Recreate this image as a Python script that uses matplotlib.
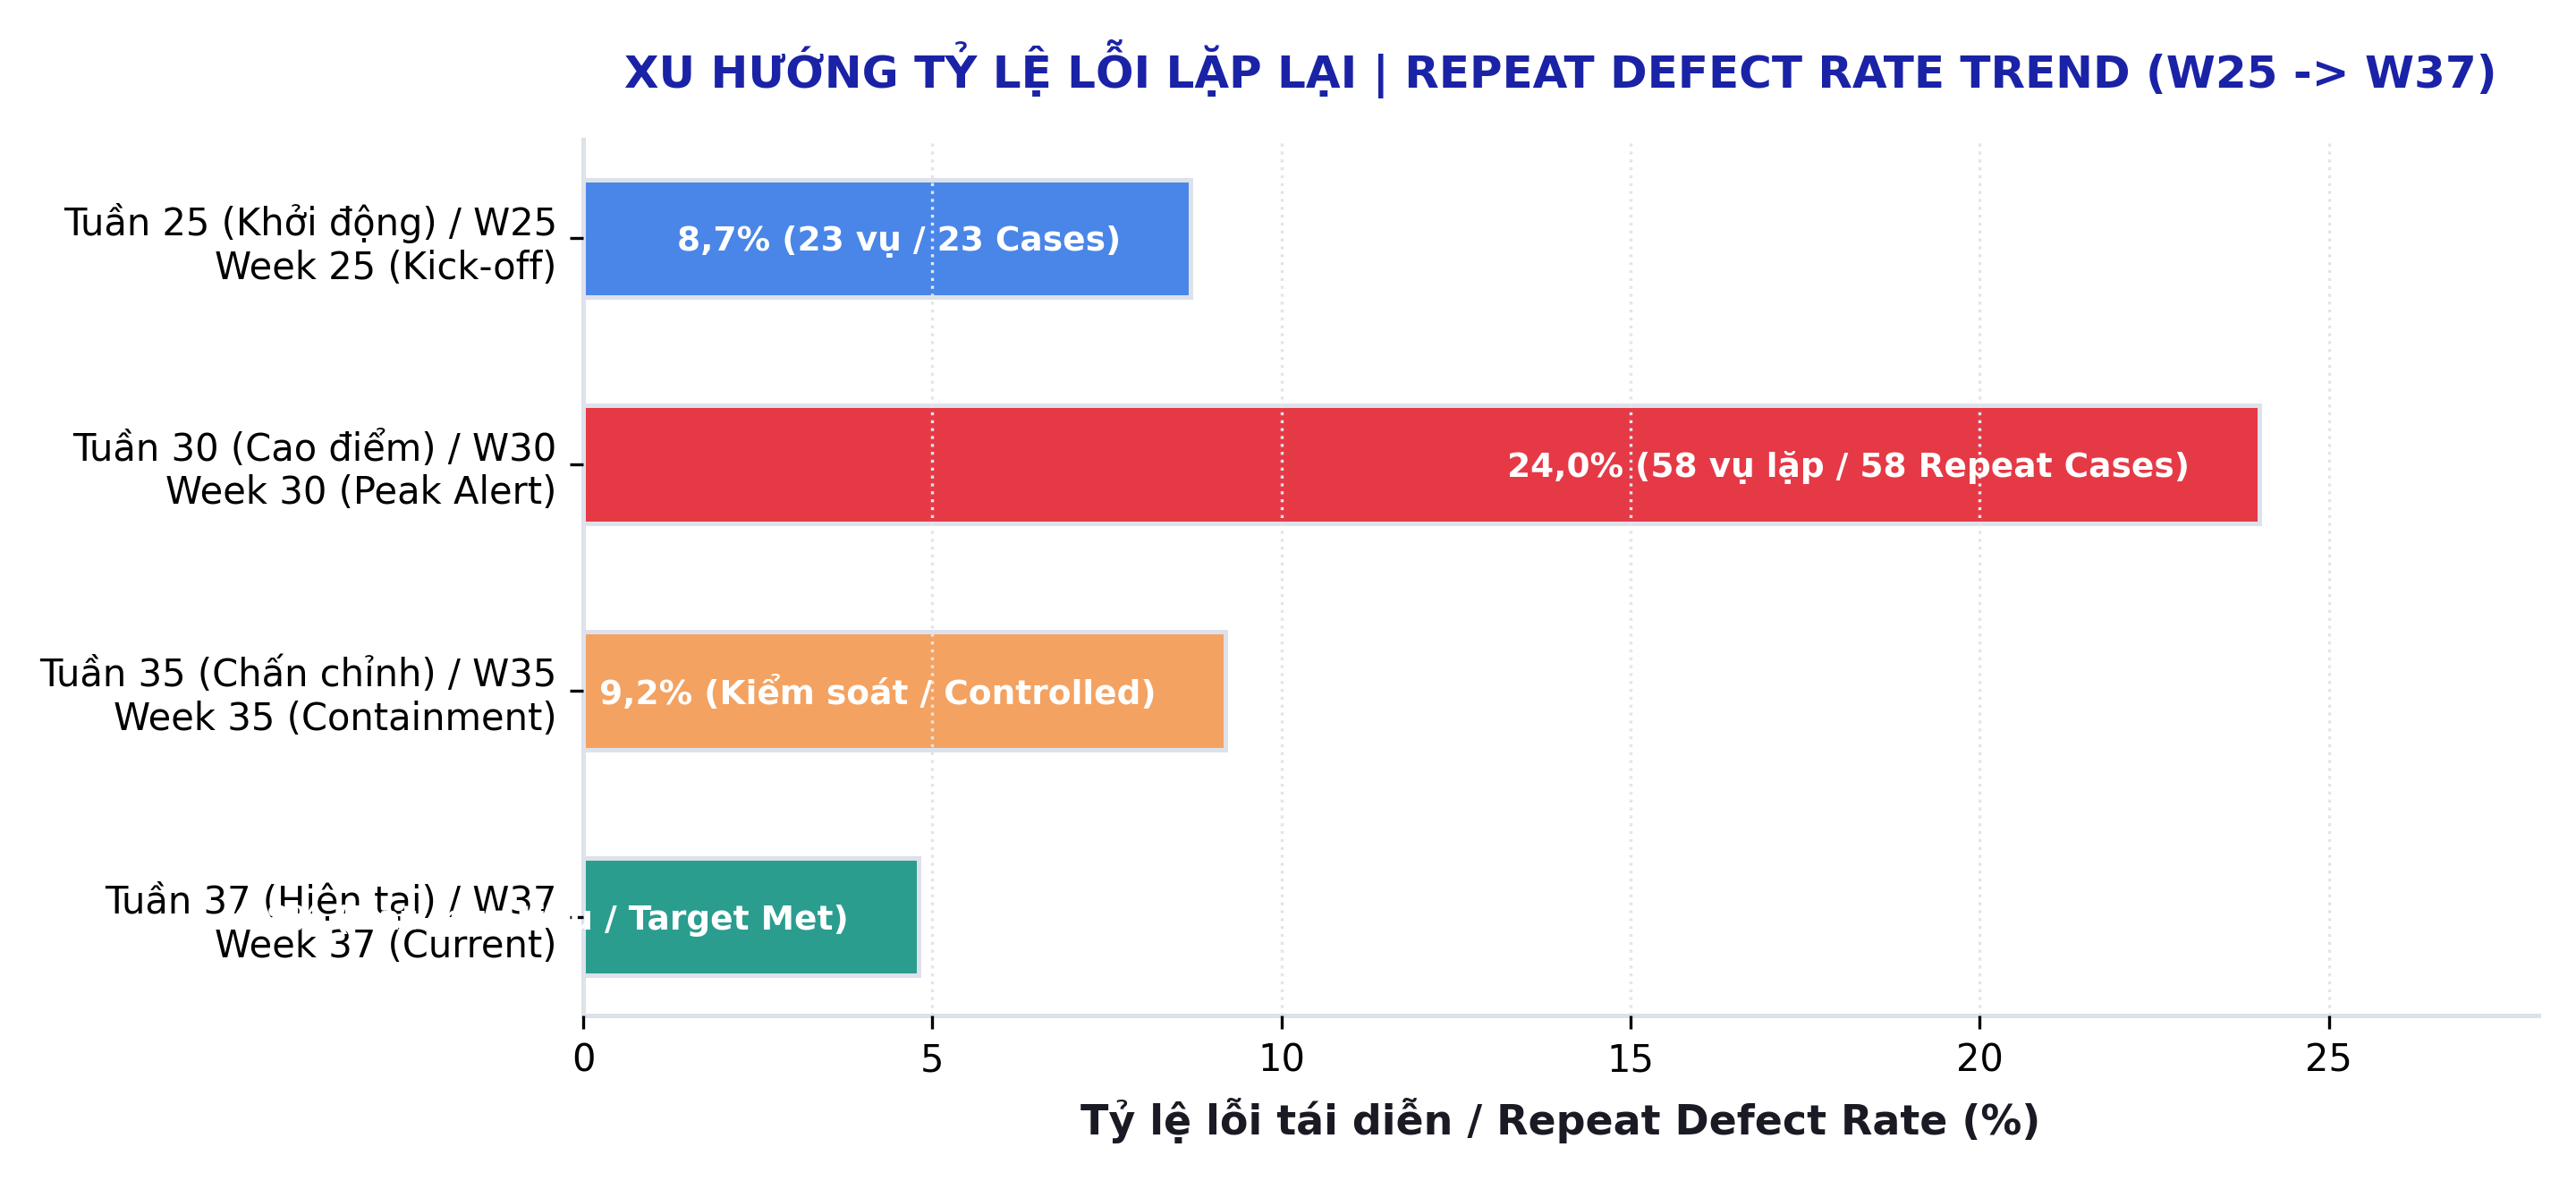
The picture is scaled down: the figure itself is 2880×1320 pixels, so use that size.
import matplotlib
matplotlib.use("Agg")
import matplotlib.pyplot as plt

categories = [
    "Tuần 25 (Khởi động) / W25\nWeek 25 (Kick-off)",
    "Tuần 30 (Cao điểm) / W30\nWeek 30 (Peak Alert)",
    "Tuần 35 (Chấn chỉnh) / W35\nWeek 35 (Containment)",
    "Tuần 37 (Hiện tại) / W37\nWeek 37 (Current)",
]
rates = [8.7, 24.0, 9.2, 4.8]
bar_labels = [
    "8,7% (23 vụ / 23 Cases)",
    "24,0% (58 vụ lặp / 58 Repeat Cases)",
    "9,2% (Kiểm soát / Controlled)",
    "4,8% (Đạt mục tiêu / Target Met)",
]
colors = ["#4a86e8", "#e63946", "#f4a261", "#2a9d8f"]

plt.rcParams['font.family'] = ['DejaVu Sans']

fig = plt.figure(figsize=(9.6, 4.4), dpi=300)
ax = fig.add_axes([0.2264, 0.1402, 0.759, 0.7416])

y = list(range(len(categories)))
bars = ax.barh(y, rates, height=0.52, color=colors, edgecolor="#dde1ea", linewidth=1.2)
ax.invert_yaxis()
ax.set_yticks(y)
ax.set_yticklabels(categories, fontsize=10)
ax.set_xlim(0, 28)
ax.tick_params(axis='x', labelsize=10)

for yi, v, lab in zip(y, rates, bar_labels):
    ax.text(v - 1, yi + 0.015, lab, ha='right', va='center', color='white',
            fontsize=9, fontweight='bold')

ax.grid(axis='x', linestyle=':', color='#e2e5ec', linewidth=0.8)
ax.grid(axis='y', visible=False)
ax.set_axisbelow(False)

for s in ['top', 'right']:
    ax.spines[s].set_visible(False)
for s in ['left', 'bottom']:
    ax.spines[s].set_color('#dde1ea')
    ax.spines[s].set_linewidth(1.2)

ax.set_xlabel("Tỷ lệ lỗi tái diễn / Repeat Defect Rate (%)", fontsize=11,
              fontweight='bold', color='#1a1a24', labelpad=5)
ax.set_title("XU HƯỚNG TỶ LỆ LỖI LẶP LẠI | REPEAT DEFECT RATE TREND (W25 -> W37)",
             fontsize=12, fontweight='bold', color='#1a23a6', pad=14)

fig.savefig("out.png", dpi=300)
